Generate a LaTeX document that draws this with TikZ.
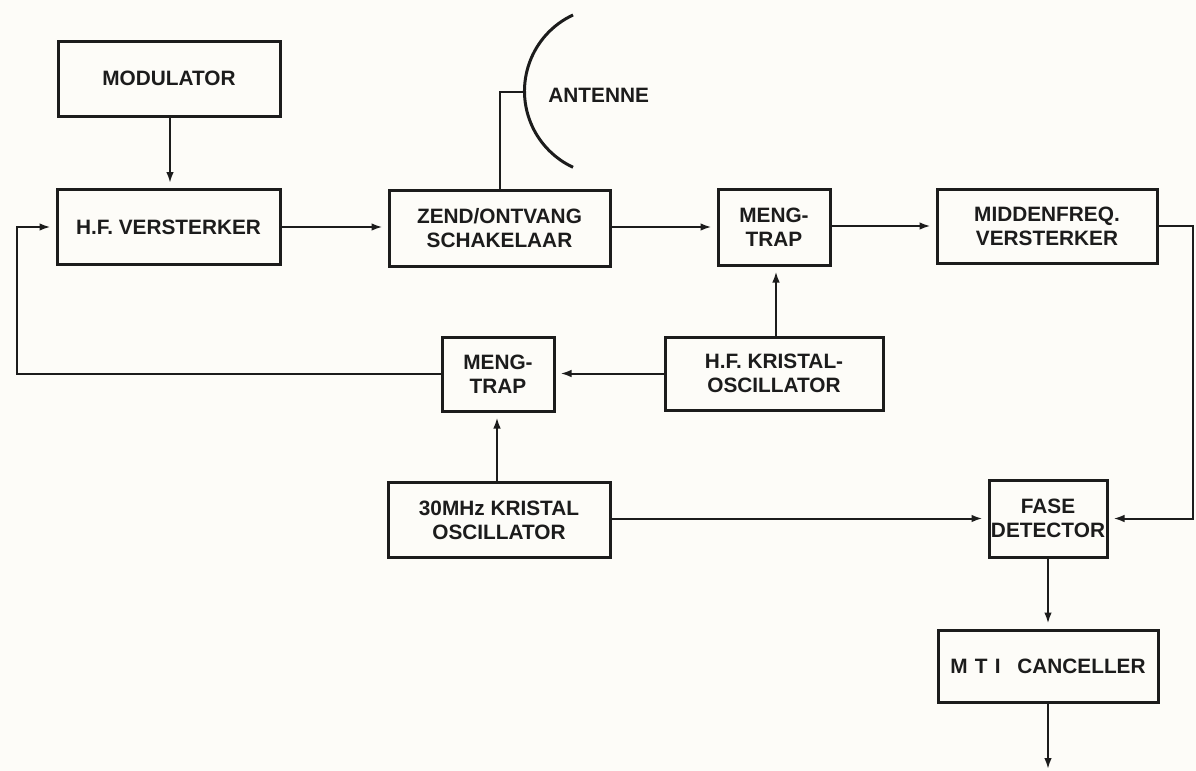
\documentclass[tikz,border=0pt]{standalone}
\usepackage{fontspec}
\setmainfont{Liberation Sans}
\usetikzlibrary{arrows.meta}
\definecolor{paper}{HTML}{FDFCF8}
\definecolor{ink}{HTML}{1C1C1C}
\begin{document}
\begin{tikzpicture}[x=0.5pt,y=-0.5pt,
  blk/.style={draw=ink, line width=1.5pt, rectangle, inner sep=0pt, align=center,
    text=ink, font=\bfseries\fontsize{10.4}{12}\selectfont},
  conn/.style={draw=ink, line width=1pt},
  arr/.style={conn, -{Latex[length=5.5pt,width=3.8pt]}, shorten >=2.5pt}]
\fill[paper] (0,0) rectangle (1196,771);
\useasboundingbox (0,0) rectangle (1196,771);

\node[blk, minimum width=111pt, minimum height=37.5pt] (mod) at (169,78.5) {MODULATOR};
\node[blk, minimum width=111.5pt, minimum height=37.5pt] (hfv) at (168.5,227) {H.F. VERSTERKER};
\node[blk, minimum width=110.5pt, minimum height=38pt] (zend) at (499.5,228) {ZEND/ONTVANG\\SCHAKELAAR};
\node[blk, minimum width=56pt, minimum height=38pt] (meng1) at (774,227) {MENG-\\TRAP};
\node[blk, minimum width=110pt, minimum height=37pt] (mid) at (1047,226) {MIDDENFREQ.\\VERSTERKER};
\node[blk, minimum width=56pt, minimum height=37pt] (meng2) at (498,374) {MENG-\\TRAP};
\node[blk, minimum width=109pt, minimum height=36.5pt] (hfk) at (774,373.5) {H.F. KRISTAL-\\OSCILLATOR};
\node[blk, minimum width=111pt, minimum height=37.5pt] (osc) at (499,520) {30MHz KRISTAL\\OSCILLATOR};
\node[blk, minimum width=59pt, minimum height=38.5pt] (fase) at (1048,518.5) {FASE\\DETECTOR};
\node[blk, minimum width=110pt, minimum height=36pt] (mti) at (1048,666) {M\hspace{0.35em}T\hspace{0.35em}I\hspace{0.8em}CANCELLER};

% antenna
\coordinate (anttop) at (573,15);
\coordinate (antmid) at (525,92);
\draw[ink, line width=1.5pt] (anttop) arc[start angle=115, end angle=245, radius=42pt];
\node[text=ink, font=\bfseries\fontsize{10.4}{12}\selectfont, anchor=west, inner sep=0pt] (antlbl) at (548,95) {ANTENNE};
\draw[conn] (zend.north -| antmid) ++(-25,0) coordinate (zt) (zt) |- (antmid);

% connectors
\draw[arr] (mod.south -| 170,0) -- (hfv.north -| 170,0);
\draw[arr] (hfv.east) -- (zend.west |- hfv.east);
\draw[arr] (zend.east |- meng1.west) -- (meng1.west);
\draw[arr] (meng1.east |- mid.west) -- (mid.west);
\draw[arr] (mid.east) -- (1193,226) |- (fase.east);
\draw[arr] (hfk.north -| 776,0) -- (meng1.south -| 776,0);
\draw[arr] (hfk.west) -- (meng2.east |- hfk.west);
\draw[arr] (meng2.west |- hfk.west) -- (17,373.5) |- (hfv.west);
\draw[arr] (osc.north -| 497,0) -- (meng2.south -| 497,0);
\draw[arr] (osc.east |- fase.west) -- (fase.west);
\draw[arr] (fase.south) -- (mti.north);
\coordinate (out) at (1048,771);
\draw[arr, shorten >=1pt] (mti.south) -- (out);
\end{tikzpicture}
\end{document}
